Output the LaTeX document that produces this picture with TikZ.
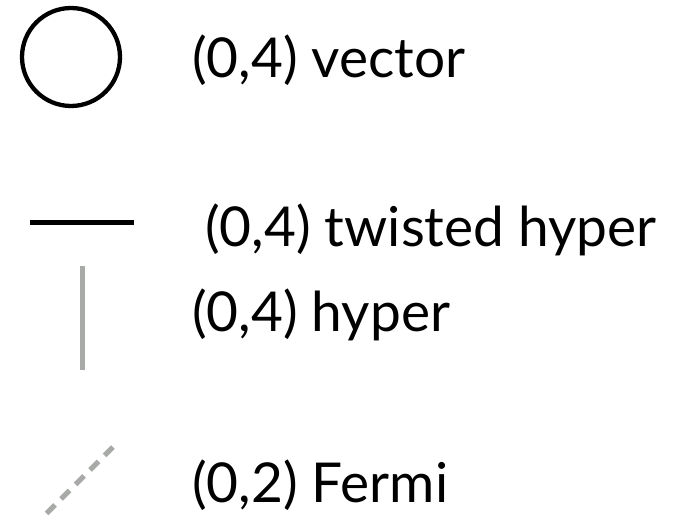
\documentclass[tikz,border=0pt]{standalone}
\usepackage{fontspec}
\setmainfont{Lato}
\usetikzlibrary{calc}
\definecolor{hypergray}{RGB}{168,170,168}
\tikzset{
	legend text/.style={anchor=west, inner sep=0pt, font=\fontsize{55}{60}\selectfont},
	legend line/.style={line width=5pt},
}
\begin{document}
\begin{tikzpicture}[x=1pt,y=-1pt]
		\useasboundingbox (0,0) rectangle (676,516);
		% vector multiplet
		\draw[line width=4.3pt] (71,57) circle (49);
		\node[legend text] (vec) at (192,60) {(0,4) vector};
		% twisted hyper and hyper
		\coordinate (th1) at (30,222);
		\coordinate (th2) at (134,222);
		\draw[legend line] (th1) -- (th2);
		\node[legend text] (thyp) at (205,230) {(0,4) twisted hyper};
		\coordinate (h1) at (82,266);
		\coordinate (h2) at (82,370);
		\draw[legend line, hypergray] (h1) -- (h2);
		\node[legend text] (hyp) at (192,315) {(0,4) hyper};
		% Fermi multiplet
		\coordinate (f1) at (38,522);
		\coordinate (f2) at (113,447);
		\draw[legend line, hypergray, dash pattern=on 12pt off 8.5pt] (f2) -- (f1);
		\node[legend text] (fermi) at (192,485) {(0,2) Fermi};
	\end{tikzpicture}
\end{document}
